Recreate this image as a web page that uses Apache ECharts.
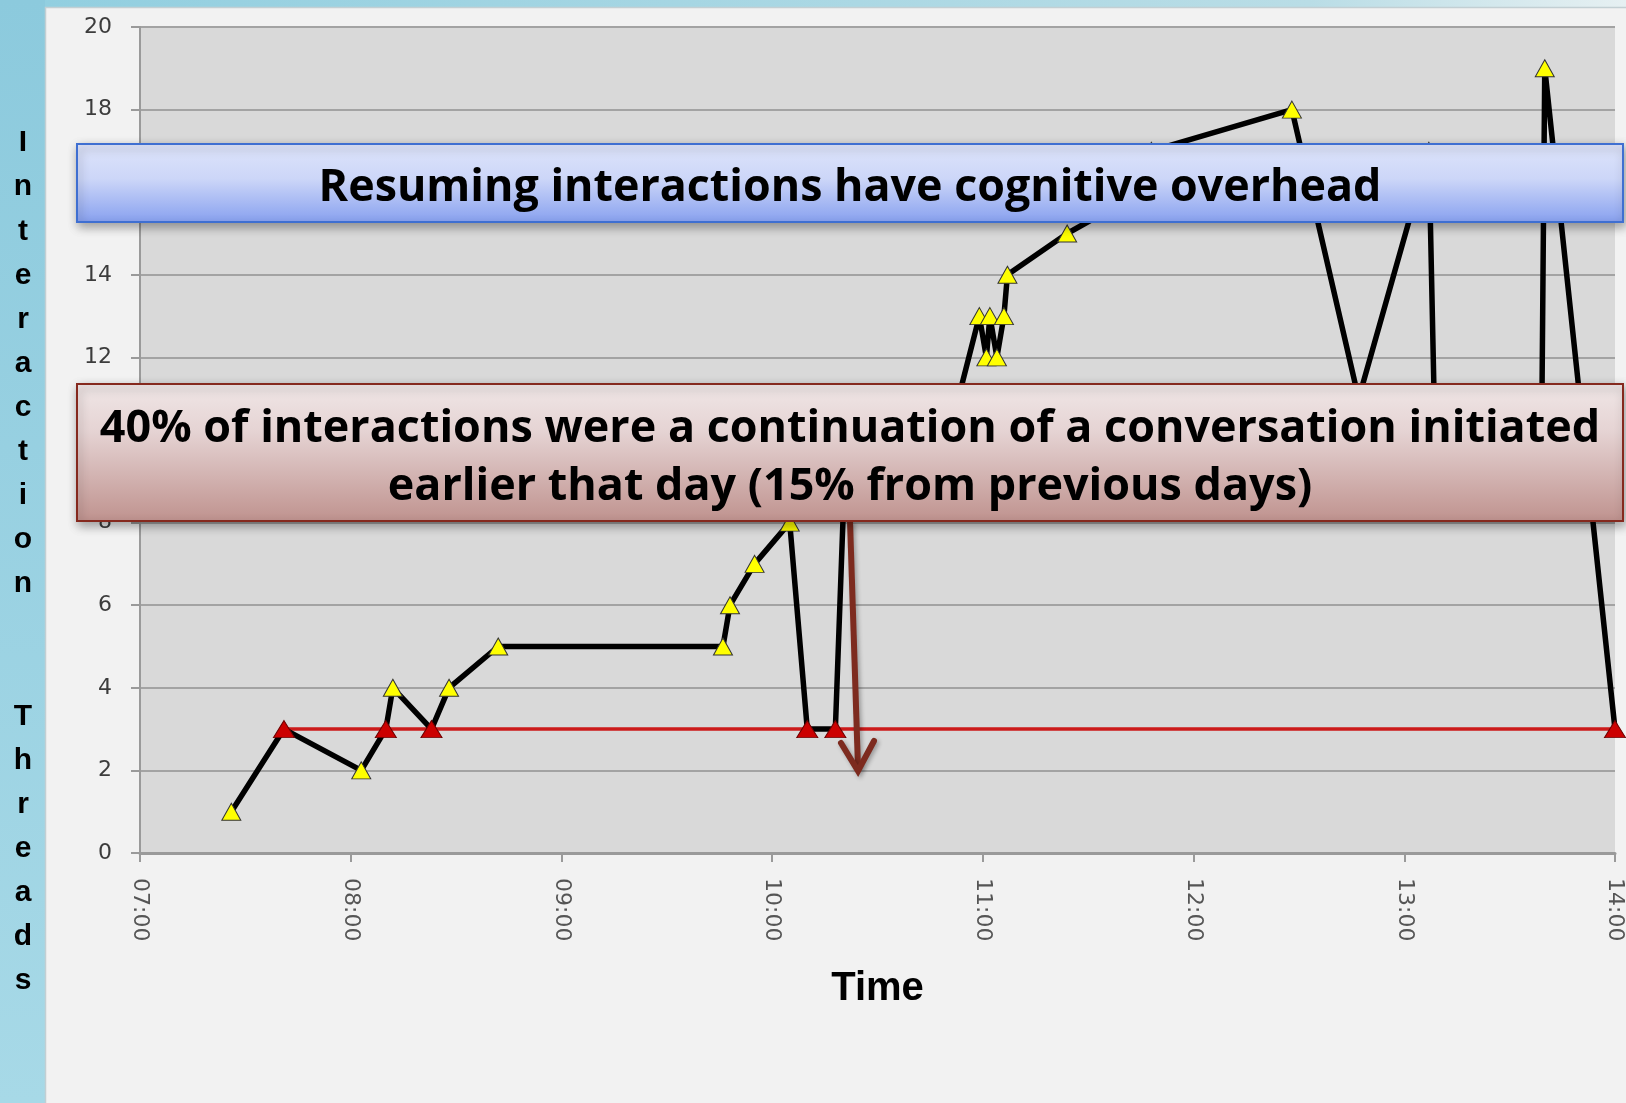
<!DOCTYPE html>
<html>
<head>
<meta charset="utf-8">
<script src="https://cdn.jsdelivr.net/npm/echarts/dist/echarts.min.js"></script>
<style>
html, body {
  margin: 0;
  padding: 0;
  background-color: #f2f2f2;
}
#chart {
  width: 1626px;
  height: 1103px;
}
</style>
</head>
<body>
<div id="chart"></div>
<script>
// time of each interaction and how many threads were open then
const threadTimes = ['07:26', '07:41', '08:03', '08:10', '08:12', '08:23', '08:28', '08:42',
  '09:46', '09:48', '09:55', '10:05', '10:10', '10:18', '10:21', '10:50', '10:59', '11:01',
  '11:02', '11:04', '11:06', '11:07', '11:24', '11:45', '11:48', '12:28', '12:47', '13:07',
  '13:09', '13:39', '13:40', '14:00']
const threadCounts = [1, 3, 2, 3, 4, 3, 4, 5,
  5, 6, 7, 8, 3, 3, 10, 10, 13, 12,
  13, 12, 13, 14, 15, 16, 17, 18, 11, 17,
  9, 9, 19, 3]

// red baseline points
const resumeTimes = ['07:41', '08:10', '08:23', '10:10', '10:18', '14:00']
const resumeCounts = [3, 3, 3, 3, 3, 3]

const hourTicks = ['07:00', '08:00', '09:00', '10:00', '11:00', '12:00', '13:00', '14:00']
const countRange = [0, 20]

const boxTitle = 'Resuming interactions have cognitive overhead'
const boxNoteLines = [
  '40% of interactions were a continuation of a conversation initiated',
  'earlier that day (15% from previous days)'
]
const sideLabel = 'Interaction  Threads'

const toMinutes = s => {
  const [h, m] = s.split(':').map(Number)
  return h * 60 + m
}
const pad = n => String(n).padStart(2, '0')

// pick a font size so the text spans the wanted width
function fitFont (text, family, width) {
  const ctx = document.createElement('canvas').getContext('2d')
  ctx.font = 'bold 100px ' + family
  return Math.round(1000 * width / ctx.measureText(text).width) / 10
}

const boxFamily = '"Open Sans"'
const titleSize = fitFont(boxTitle, boxFamily, 1064)
const noteSize = fitFont(boxNoteLines[0], boxFamily, 1502)

const redSet = new Set(resumeTimes)
const threadData = threadTimes.map((t, i) => {
  const item = { value: [toMinutes(t), threadCounts[i]] }
  if (redSet.has(t) && threadCounts[i] === 3) {
    item.symbolSize = [21, 17]
    item.itemStyle = { color: '#cc0000', borderColor: '#6e0000', borderWidth: 1 }
  }
  return item
})

const chart = echarts.init(document.getElementById('chart'))

const option = {
  animation: false,
  backgroundColor: '#f2f2f2',
  grid: {
    left: 140,
    right: 11,
    top: 27,
    bottom: 250,
    show: true,
    backgroundColor: '#d9d9d9',
    borderWidth: 0
  },
  xAxis: {
    type: 'value',
    min: toMinutes(hourTicks[0]),
    max: toMinutes(hourTicks[hourTicks.length - 1]),
    interval: 60,
    name: 'Time',
    nameLocation: 'middle',
    nameGap: 116,
    nameTextStyle: {
      fontFamily: 'Liberation Sans',
      fontWeight: 'bold',
      fontSize: 40,
      color: '#000'
    },
    splitLine: { show: false },
    axisLine: { lineStyle: { color: '#9a9a9a', width: 3 } },
    axisTick: { length: 9, lineStyle: { color: '#9a9a9a', width: 2 } },
    axisLabel: {
      rotate: -90,
      margin: 25,
      fontFamily: 'DejaVu Sans',
      fontSize: 22,
      color: '#555',
      formatter: v => pad(Math.floor(v / 60)) + ':' + pad(v % 60)
    }
  },
  yAxis: {
    type: 'value',
    min: countRange[0],
    max: countRange[1],
    interval: 2,
    splitLine: { lineStyle: { color: '#a3a3a3', width: 2 } },
    axisLine: { show: true, lineStyle: { color: '#9a9a9a', width: 2 } },
    axisTick: { show: true, length: 9, lineStyle: { color: '#9a9a9a', width: 2 } },
    axisLabel: {
      margin: 28,
      fontFamily: 'DejaVu Sans',
      fontSize: 22,
      color: '#3c3c3c'
    }
  },
  series: [
    {
      name: 'resumed',
      type: 'line',
      z: 2,
      clip: false,
      symbol: 'none',
      lineStyle: { color: '#cc1a1a', width: 3.5 },
      data: resumeTimes.map((t, i) => [toMinutes(t), resumeCounts[i]])
    },
    {
      name: 'threads',
      type: 'line',
      z: 3,
      clip: false,
      symbol: 'triangle',
      symbolSize: [19, 17],
      lineStyle: { color: '#000', width: 5.5 },
      itemStyle: { color: '#ffff00', borderColor: '#333', borderWidth: 1 },
      data: threadData
    }
  ],
  graphic: [
    // blue frame around the slide
    {
      type: 'rect',
      z: 1,
      shape: { x: 0, y: 0, width: 45, height: 1103 },
      style: {
        fill: new echarts.graphic.LinearGradient(0, 0, 0, 1, [
          { offset: 0, color: '#8ccadd' },
          { offset: 1, color: '#a7d9e7' }
        ])
      }
    },
    {
      type: 'rect',
      z: 1,
      shape: { x: 45, y: 0, width: 1581, height: 7 },
      style: {
        fill: new echarts.graphic.LinearGradient(0, 0, 1, 0, [
          { offset: 0, color: '#92cfe0' },
          { offset: 0.8, color: '#b9dde6' },
          { offset: 1, color: '#e6f0f2' }
        ])
      }
    },
    {
      type: 'polyline',
      z: 1,
      shape: { points: [[45.5, 1103], [45.5, 7.5], [1626, 7.5]] },
      style: { stroke: '#c2cfd3', lineWidth: 1.5, fill: null }
    },
    {
      type: 'text',
      z: 10,
      style: {
        text: sideLabel.split('').join('\n'),
        x: 23,
        y: 121,
        font: 'bold 30px "Liberation Sans"',
        lineHeight: 44.1,
        fill: '#000',
        align: 'center',
        textAlign: 'center',
        verticalAlign: 'top',
        textVerticalAlign: 'top'
      }
    },
    // headline box
    {
      type: 'rect',
      z: 20,
      shape: { x: 77, y: 144, width: 1546, height: 78 },
      style: {
        fill: new echarts.graphic.LinearGradient(0, 0, 0, 1, [
          { offset: 0, color: '#dfe5fb' },
          { offset: 0.45, color: '#ccd6f8' },
          { offset: 1, color: '#87a0ef' }
        ]),
        stroke: '#3f6fd1',
        lineWidth: 2,
        shadowBlur: 10,
        shadowOffsetX: 2,
        shadowOffsetY: 4,
        shadowColor: 'rgba(0,0,0,0.35)'
      }
    },
    {
      type: 'text',
      z: 21,
      style: {
        text: boxTitle,
        x: 850,
        y: 188,
        font: 'bold ' + titleSize + 'px ' + boxFamily,
        fill: '#000',
        align: 'center',
        textAlign: 'center',
        verticalAlign: 'middle',
        textVerticalAlign: 'middle'
      }
    },
    // note box
    {
      type: 'rect',
      z: 20,
      shape: { x: 77, y: 384, width: 1546, height: 137 },
      style: {
        fill: new echarts.graphic.LinearGradient(0, 0, 0, 1, [
          { offset: 0, color: '#f0e7e7' },
          { offset: 0.35, color: '#e5d3d3' },
          { offset: 1, color: '#bf928e' }
        ]),
        stroke: '#85291e',
        lineWidth: 2,
        shadowBlur: 10,
        shadowOffsetX: 2,
        shadowOffsetY: 4,
        shadowColor: 'rgba(0,0,0,0.35)'
      }
    },
    {
      type: 'text',
      z: 21,
      style: {
        text: boxNoteLines[0],
        x: 850,
        y: 429,
        font: 'bold ' + noteSize + 'px ' + boxFamily,
        fill: '#000',
        align: 'center',
        textAlign: 'center',
        verticalAlign: 'middle',
        textVerticalAlign: 'middle'
      }
    },
    {
      type: 'text',
      z: 21,
      style: {
        text: boxNoteLines[1],
        x: 850,
        y: 487,
        font: 'bold ' + noteSize + 'px ' + boxFamily,
        fill: '#000',
        align: 'center',
        textAlign: 'center',
        verticalAlign: 'middle',
        textVerticalAlign: 'middle'
      }
    },
    // arrow from the note down to the baseline
    {
      type: 'line',
      z: 19,
      shape: { x1: 850, y1: 521, x2: 858, y2: 768 },
      style: {
        stroke: '#7d2b1f',
        lineWidth: 6,
        shadowBlur: 4,
        shadowOffsetX: 2,
        shadowOffsetY: 2,
        shadowColor: 'rgba(0,0,0,0.3)'
      }
    },
    {
      type: 'polyline',
      z: 19,
      shape: { points: [[841, 743], [858, 771], [874, 741]] },
      style: {
        stroke: '#7d2b1f',
        lineWidth: 6,
        fill: null,
        lineCap: 'round',
        shadowBlur: 4,
        shadowOffsetX: 2,
        shadowOffsetY: 2,
        shadowColor: 'rgba(0,0,0,0.3)'
      }
    }
  ]
}

chart.setOption(option)
</script>
</body>
</html>
